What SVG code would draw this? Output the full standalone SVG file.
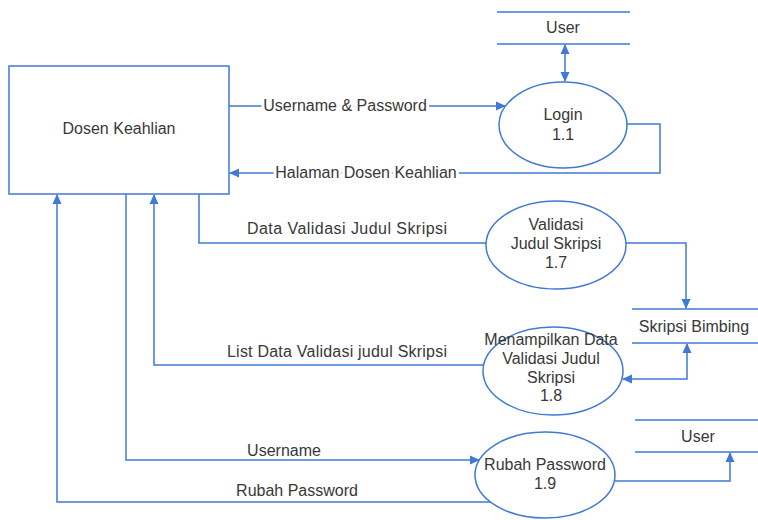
<svg xmlns="http://www.w3.org/2000/svg" width="758" height="520" viewBox="0 0 758 520">
<style>
.sh{fill:#fff;stroke:#4079d6;stroke-width:1.5}
.ln{fill:none;stroke:#4079d6;stroke-width:1.5}
text{font-family:"Liberation Sans",Arial,sans-serif;font-size:16px;fill:#383838}
.c{text-anchor:middle}
.bg{stroke:#fff;stroke-width:6;paint-order:stroke}
</style>
<defs>
<marker id="ar" viewBox="0 0 10 10" refX="9" refY="5" markerWidth="10" markerHeight="10" markerUnits="userSpaceOnUse" orient="auto-start-reverse">
<path d="M0,0.5 L10,5 L0,9.5 Z" fill="#4079d6"/>
</marker>
</defs>
<rect width="758" height="520" fill="#fff"/>
<g id="connectors">
<path class="ln" d="M229,106 H505" marker-end="url(#ar)"/>
<path class="ln" d="M627,124 H660 V173 H230" marker-end="url(#ar)"/>
<path class="ln" d="M565,45 V81" marker-start="url(#ar)" marker-end="url(#ar)"/>
<path class="ln" d="M199,194 V243 H486"/>
<path class="ln" d="M625,243 H686 V308" marker-end="url(#ar)"/>
<path class="ln" d="M623,379 H687 V344" marker-start="url(#ar)" marker-end="url(#ar)"/>
<path class="ln" d="M483,365 H154 V195" marker-end="url(#ar)"/>
<path class="ln" d="M126,194 V460 H479" marker-end="url(#ar)"/>
<path class="ln" d="M497,502 H57 V195" marker-end="url(#ar)"/>
<path class="ln" d="M615,481 H730 V453" marker-end="url(#ar)"/>
<text class="c bg" x="345" y="111">Username &amp; Password</text>
<text class="c bg" x="366" y="178">Halaman Dosen Keahlian</text>
<text class="c" x="347" y="234" textLength="200" lengthAdjust="spacing">Data Validasi Judul Skripsi</text>
<text class="c" x="337" y="357" textLength="220" lengthAdjust="spacing">List Data Validasi judul Skripsi</text>
<text class="c" x="284" y="456">Username</text>
<text class="c" x="297" y="496">Rubah Password</text>
</g>
<g id="dosen">
<rect class="sh" x="9" y="66" width="220" height="128"/>
<text class="c" x="119" y="134">Dosen Keahlian</text>
</g>
<g id="store-user-top">
<path class="ln" d="M497,12 H630 M497,44 H630"/>
<text class="c" x="563" y="33">User</text>
</g>
<g id="login">
<ellipse class="sh" cx="563" cy="125" rx="64" ry="43"/>
<text class="c" x="563" y="120">Login</text>
<text class="c" x="563" y="140">1.1</text>
</g>
<g id="validasi">
<ellipse class="sh" cx="556" cy="245" rx="70" ry="44"/>
<text class="c" x="556" y="230">Validasi</text>
<text class="c" x="556" y="249">Judul Skripsi</text>
<text class="c" x="556" y="268">1.7</text>
</g>
<g id="store-skripsi">
<path class="ln" d="M632,309 H758 M632,343 H758"/>
<text class="c" x="694" y="332">Skripsi Bimbing</text>
</g>
<g id="menampilkan">
<ellipse class="sh" cx="553" cy="371" rx="70" ry="44"/>
<text class="c" x="551" y="345">Menampilkan Data</text>
<text class="c" x="551" y="364">Validasi Judul</text>
<text class="c" x="551" y="383">Skripsi</text>
<text class="c" x="551" y="401">1.8</text>
</g>
<g id="rubah">
<ellipse class="sh" cx="545" cy="475" rx="70" ry="43"/>
<text class="c" x="545" y="470">Rubah Password</text>
<text class="c" x="545" y="489">1.9</text>
</g>
<g id="store-user-bottom">
<path class="ln" d="M635,420 H758 M635,452 H758"/>
<text class="c" x="698" y="442">User</text>
</g>
</svg>
